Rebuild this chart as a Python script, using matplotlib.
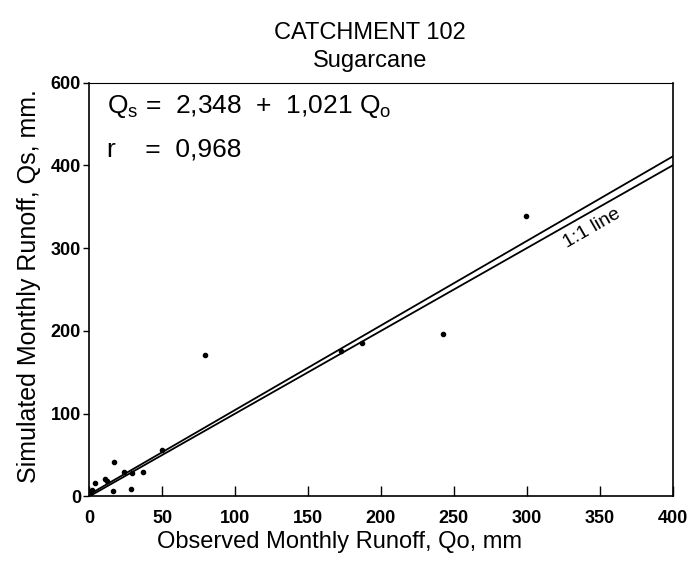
import matplotlib
matplotlib.use('Agg')
import matplotlib.pyplot as plt
import numpy as np

plt.rcParams['font.family'] = ['Liberation Sans', 'DejaVu Sans']

# observed vs simulated monthly runoff (mm)
observed = [0.5, 2, 3.9, 10.8, 12.5, 16.5, 17, 24, 28.6, 29, 37, 50,
            79.4, 172.7, 187.3, 242.5, 299.6]
simulated = [4, 8, 16, 21, 19, 7, 42, 29, 9, 28, 29, 56,
             171, 176, 185, 196, 339]

intercept = 2.348
slope = 1.021

x_ticks = [0, 50, 100, 150, 200, 250, 300, 350, 400]
y_ticks = [0, 100, 200, 300, 400, 500]
y_tick_labels = ['0', '100', '200', '300', '400', '600']

fig = plt.figure(figsize=(6.92, 5.66), dpi=100)
ax = fig.add_axes([0.129, 0.123, 0.843, 0.731])

# regression line and 1:1 line
xx = np.array([0, 400])
ax.plot(xx, intercept + slope * xx, color='black', lw=1.3)
ax.plot(xx, xx, color='black', lw=1.3)

ax.scatter(observed, simulated, s=9, color='black', zorder=5)

ax.set_xlim(0, 400)
ax.set_ylim(0, 500)
ax.set_xticks(x_ticks)
ax.set_xticklabels([str(t) for t in x_ticks], fontweight='bold', fontsize=13)
ax.set_yticks(y_ticks)
ax.set_yticklabels(y_tick_labels, fontweight='bold', fontsize=13)
ax.tick_params(axis='x', direction='in', length=7, width=1, pad=10)
ax.tick_params(axis='y', direction='out', length=4, width=1, pad=2)
for sp in ax.spines.values():
    sp.set_linewidth(1.2)
ax.spines['top'].set_linewidth(0.8)

fig.text(0.49, 0.043, 'Observed Monthly Runoff, Qo, mm', ha='center',
         va='center', fontsize=17)
fig.text(0.042, 0.495, 'Simulated Monthly Runoff, Qs, mm.', ha='center',
         va='center', fontsize=18, rotation=90)

fig.text(0.535, 0.942, 'CATCHMENT 102', ha='center', va='center', fontsize=17)
fig.text(0.535, 0.892, 'Sugarcane', ha='center', va='center', fontsize=17)

ax.text(0.030, 0.927, r'Q$_\mathregular{s}$ =  2,348  +  1,021 Q$_\mathregular{o}$',
        transform=ax.transAxes, fontsize=19, va='baseline', ha='left')
ax.text(0.030, 0.8205, 'r    =  0,968', transform=ax.transAxes,
        fontsize=19, va='baseline', ha='left')

ax.text(345, 324, '1:1 line', rotation=30, ha='center', va='center',
        fontsize=14, rotation_mode='anchor')

fig.savefig('out.png', dpi=100)
